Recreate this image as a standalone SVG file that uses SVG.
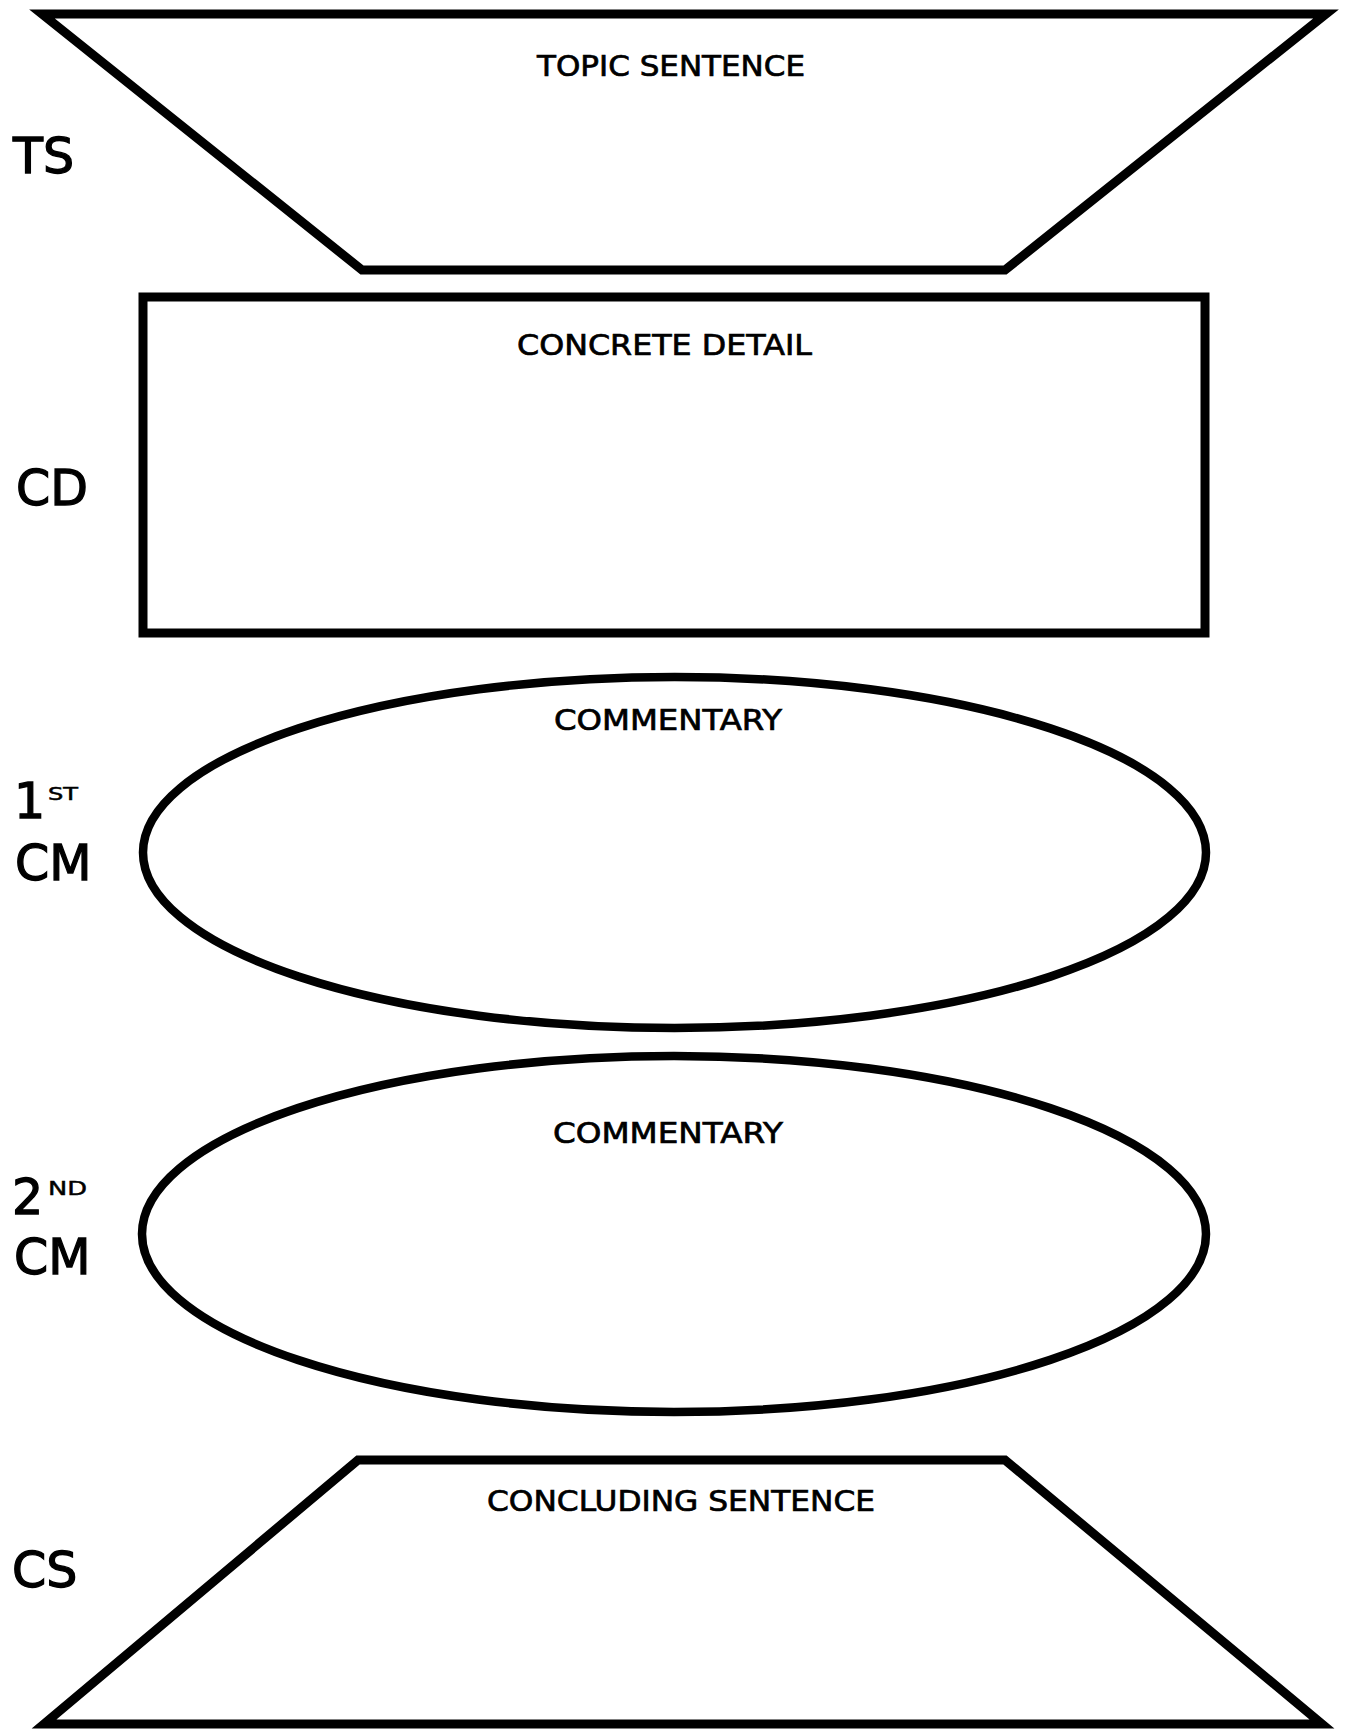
<svg xmlns="http://www.w3.org/2000/svg" width="1348" height="1729" viewBox="0 0 1348 1729">
<style>
.shape{fill:none;stroke:#000;stroke-width:9;stroke-linejoin:miter}
.oval{fill:none;stroke:#000;stroke-width:8.5}
.side{font-family:"DejaVu Sans",sans-serif;font-size:49px;fill:#000;stroke:#000;stroke-width:1.3}
.sup{font-family:"DejaVu Sans",sans-serif;fill:#000;stroke:#000;stroke-width:0.5}
.lbl{font-family:"DejaVu Sans",sans-serif;font-size:28px;fill:#000;stroke:#000;stroke-width:0.7}
</style>
<rect width="1348" height="1729" fill="#fff"/>
<g id="connectors"></g>
<g id="ts">
<polygon class="shape" points="42,14 1326,14 1005,270 362,270"/>
<text class="lbl" x="537" y="76" textLength="268" lengthAdjust="spacingAndGlyphs">TOPIC SENTENCE</text>
<text class="side" x="13" y="173">TS</text>
</g>
<g id="cd">
<rect class="shape" x="143" y="297" width="1062" height="336"/>
<text class="lbl" x="517" y="355" textLength="295" lengthAdjust="spacingAndGlyphs">CONCRETE DETAIL</text>
<text class="side" x="16" y="505">CD</text>
</g>
<g id="cm1">
<ellipse class="oval" cx="674.5" cy="852.5" rx="531.5" ry="175.5"/>
<text class="lbl" x="554" y="730" textLength="228" lengthAdjust="spacingAndGlyphs">COMMENTARY</text>
<text class="side" x="14" y="818">1</text>
<text class="sup" x="48" y="800" font-size="17" textLength="30" lengthAdjust="spacingAndGlyphs">ST</text>
<text class="side" x="15" y="880">CM</text>
</g>
<g id="cm2">
<ellipse class="oval" cx="674" cy="1234" rx="532" ry="178"/>
<text class="lbl" x="553" y="1143" textLength="230" lengthAdjust="spacingAndGlyphs">COMMENTARY</text>
<text class="side" x="12" y="1214">2</text>
<text class="sup" x="48" y="1195" font-size="20" textLength="39" lengthAdjust="spacingAndGlyphs">ND</text>
<text class="side" x="14" y="1274">CM</text>
</g>
<g id="cs">
<polygon class="shape" points="358,1460 1005,1460 1322,1724 44,1724"/>
<text class="lbl" x="487" y="1511" textLength="388" lengthAdjust="spacingAndGlyphs">CONCLUDING SENTENCE</text>
<text class="side" x="12" y="1587">CS</text>
</g>
</svg>
